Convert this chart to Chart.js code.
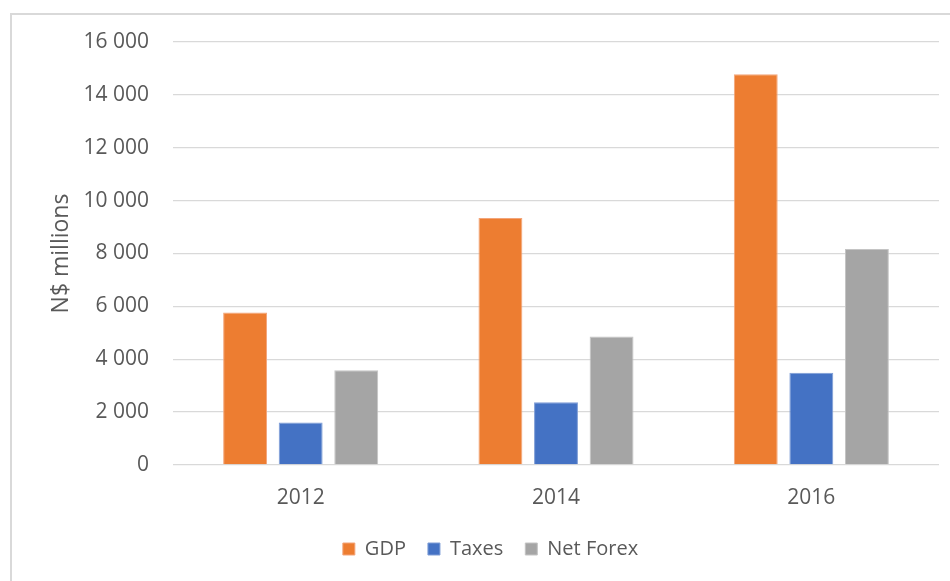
<!DOCTYPE html>
<html>
<head>
<meta charset="utf-8">
<script src="https://cdn.jsdelivr.net/npm/chart.js@4/dist/chart.umd.min.js"></script>
<style>
  html, body { margin: 0; padding: 0; background: #ffffff; }
  #wrap { position: relative; width: 950px; height: 581px; }
</style>
</head>
<body>
<div id="wrap"><canvas id="c" width="950" height="581"></canvas></div>
<script>
// Categories and series (N$ millions)
const years = ['2012', '2014', '2016'];
const gdp = [5770, 9340, 14780];
const taxes = [1610, 2370, 3490];
const netForex = [3580, 4860, 8170];

// Value axis
const yMin = 0;
const yMax = 16000;
const yStep = 2000;
const yTitle = 'N$ millions';

const FONT = "'Open Sans', 'DejaVu Sans', sans-serif";
const TEXT = '#595959';
const GRID = '#D9D9D9';

const fmt = v => String(v).replace(/\B(?=(\d{3})+(?!\d))/g, ' ');

// light frame around the chart
const framePlugin = {
  id: 'frame',
  beforeDraw(chart) {
    const ctx = chart.ctx;
    ctx.save();
    ctx.strokeStyle = '#D9D9D9';
    ctx.lineWidth = 2;
    ctx.beginPath();
    ctx.moveTo(11, chart.height + 2);
    ctx.lineTo(11, 14);
    ctx.lineTo(chart.width + 2, 14);
    ctx.stroke();
    ctx.restore();
  }
};

new Chart(document.getElementById('c'), {
  type: 'bar',
  data: {
    labels: years,
    datasets: [
      { label: 'GDP', data: gdp, backgroundColor: '#ED7D31', borderColor: '#F3A57A', borderWidth: 1 },
      { label: 'Taxes', data: taxes, backgroundColor: '#4472C4', borderColor: '#7E9DD6', borderWidth: 1 },
      { label: 'Net Forex', data: netForex, backgroundColor: '#A5A5A5', borderColor: '#C4C4C4', borderWidth: 1 }
    ]
  },
  options: {
    responsive: false,
    animation: false,
    devicePixelRatio: 1,
    datasets: { bar: { categoryPercentage: 0.653, barPercentage: 0.79 } },
    layout: { padding: { left: 42, right: 11, top: 42, bottom: 12 } },
    plugins: {
      legend: {
        position: 'bottom',
        labels: {
          font: { family: FONT, size: 20 },
          color: TEXT,
          boxWidth: 12,
          boxHeight: 12,
          padding: 22
        }
      },
      tooltip: { enabled: false }
    },
    scales: {
      x: {
        grid: { display: false, drawTicks: false },
        border: { display: false },
        ticks: { font: { family: FONT, size: 21 }, color: TEXT, padding: 20 },
        afterFit(scale) { scale.height = 52; }
      },
      y: {
        min: yMin,
        max: yMax,
        grid: { color: GRID, lineWidth: 1.3, drawTicks: false },
        border: { display: false },
        ticks: {
          stepSize: yStep,
          font: { family: FONT, size: 21 },
          color: TEXT,
          padding: 24,
          callback: v => fmt(v)
        },
        title: {
          display: true,
          text: yTitle,
          font: { family: FONT, size: 23 },
          color: TEXT,
          padding: { top: 6, bottom: 0 }
        },
        afterFit(scale) { scale.width = 131; }
      }
    }
  },
  plugins: [framePlugin]
});
</script>
</body>
</html>
